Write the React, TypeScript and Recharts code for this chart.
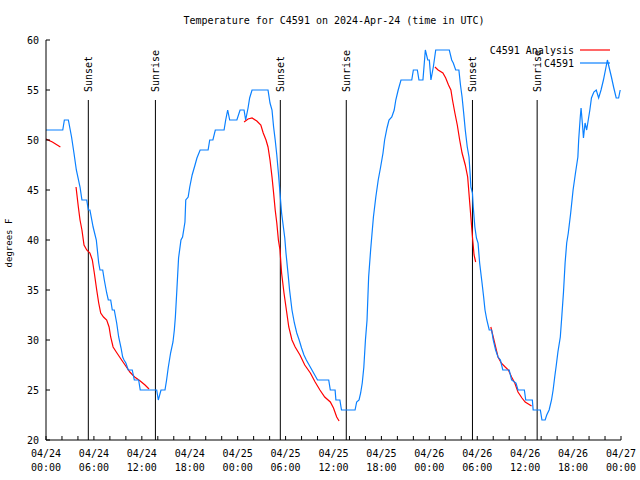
import React from 'react';
import { LineChart, Line, XAxis, YAxis, ReferenceLine, Customized } from 'recharts';

const title = 'Temperature for C4591 on 2024-Apr-24 (time in UTC)';
const yTitle = 'degrees F';
const seriesNames = ['C4591 Analysis', 'C4591'];

// hours since 04/24 00:00 UTC
const obsHours = [
  0, 2.1, 2.3, 2.8, 3.2, 3.5, 3.8, 4.26, 4.5, 5.1, 5.3, 5.5, 5.9, 6.3, 6.6, 6.76, 7.1, 7.3, 7.6, 7.8,
  8.1, 8.3, 8.55, 8.85, 9.1, 9.4, 9.6, 9.77, 10.0, 10.3, 10.8, 11.06, 11.6, 11.8, 13.86, 14.06, 14.4, 14.9, 15.1, 15.3,
  15.6, 15.9, 16.07, 16.2, 16.4, 16.6, 16.9, 17.1, 17.4, 17.5, 17.8, 18.0, 18.3, 18.66, 18.9, 19.3, 20.3, 20.5, 20.9, 21.2,
  22.3, 22.5, 22.75, 23.0, 23.9, 24.3, 24.8, 25.0, 25.3, 25.5, 25.8, 27.8, 28.05, 28.3, 28.5, 28.7, 28.9, 29.1, 29.3, 29.5,
  29.9, 30.05, 30.3, 30.5, 30.8, 31.1, 31.4, 31.7, 32.0, 32.3, 32.6, 33.3, 34.0, 35.4, 35.6, 36.2, 36.3, 36.8, 37.0, 38.7,
  38.9, 39.2, 39.4, 39.6, 39.8, 40.0, 40.2, 40.4, 40.65, 40.86, 41.0, 41.3, 41.6, 41.9, 42.2, 42.4, 42.7, 42.95, 43.3, 43.6,
  43.8, 44.1, 44.45, 45.8, 46.0, 46.5, 46.7, 47.2, 47.5, 47.8, 48.0, 48.2, 48.5, 48.8, 50.5, 50.8, 51.0, 51.3, 51.7, 51.9,
  52.1, 52.3, 52.5, 52.75, 52.97, 53.1, 53.2, 53.4, 53.5, 53.7, 53.9, 54.1, 54.3, 54.6, 54.8, 54.97, 55.2, 55.5, 55.8, 56.0,
  56.3, 56.6, 56.9, 57.2, 58.0, 58.3, 58.85, 59.1, 59.9, 60.07, 60.9, 61.0, 61.9, 62.1, 62.5, 62.7, 63.0, 63.3, 63.5, 63.7,
  63.9, 64.1, 64.4, 64.6, 64.8, 65.0, 65.2, 65.4, 65.7, 66.0, 66.3, 66.6, 66.7, 66.9, 67.0, 67.2, 67.3, 67.5, 67.7, 67.9,
  68.1, 68.3, 68.6, 68.9, 69.2, 69.5, 69.8, 70.1, 70.3, 70.5, 70.8, 71.1, 71.4, 71.7, 71.9,
];
const obsTemps = [
  51, 51, 52, 52, 50.3, 48.7, 47, 45.3, 44, 44, 43, 43, 41.3, 40, 37.7, 37, 37, 36, 34.7, 34,
  34, 33, 33, 31.7, 30.3, 29.2, 28.3, 28, 27.7, 27, 27, 26, 26, 25, 25, 24, 25, 25, 26, 27.2,
  28.7, 29.8, 31, 32.3, 35.2, 38.2, 40, 40.3, 41.8, 44, 44.3, 45.3, 46.5, 47.5, 48.2, 49, 49, 50, 50, 51,
  51, 52, 53, 52, 52, 53, 53, 52, 53.2, 54.2, 55, 55, 53.7, 53, 51.3, 50, 48.5, 46.7, 44.7, 42.7,
  40.2, 38.7, 36.7, 35, 33, 31.7, 30.7, 30, 29.2, 28.5, 28, 27, 26, 26, 25, 25, 24, 24, 23, 23,
  23.8, 24, 24.7, 25.7, 27.3, 30, 32, 36.3, 39, 41, 42.3, 44.3, 46, 47.3, 48.7, 50, 51.2, 52, 52.3, 53,
  54, 55, 56, 56, 57, 57, 56, 56, 59, 58, 58, 56, 57.3, 59, 59, 58, 57.7, 57, 57, 55.5,
  54.3, 52.7, 51, 49.3, 48.3, 46.7, 45.3, 44.7, 43.3, 41.3, 40.2, 39.7, 37.7, 35.7, 34.3, 33, 32, 31, 31, 30,
  29, 28.3, 28, 27, 27, 26, 25.7, 25, 25, 24, 24, 23, 23, 22, 22, 22.5, 23, 24, 25, 26.3,
  27.5, 28.8, 30.3, 32.5, 34.8, 37.7, 39.7, 40.7, 42.7, 45, 46.7, 48.3, 50, 52.3, 53.2, 51.3, 50.2, 51.7, 51, 52,
  53, 54.2, 54.8, 55, 54.2, 55, 56, 57.2, 58, 57.3, 56.3, 55.2, 54.2, 54.2, 55,
];

// analysis series, null marks a gap
const anaHours = [
  0, 0.8, 1.8, 2.5,
  3.76, 4.05, 4.26, 4.5, 4.76, 5.1, 5.5, 5.8, 6.05, 6.35, 6.6, 6.85, 7.2, 7.6, 7.9, 8.1, 8.4, 8.8, 9.3, 9.9, 10.5, 11.1, 11.8, 12.4, 12.9, 13.5,
  24.8, 25.3, 25.8, 26.4, 26.9, 27.2, 27.55, 27.8, 28.05, 28.3, 28.5, 28.7, 28.9, 29.1, 29.3, 29.5, 29.8, 30.1, 30.4, 30.8, 31.2, 31.8, 32.4, 33.1, 33.7, 34.3, 34.9, 35.6, 36.0, 36.4, 36.7, 37.5,
  48.7, 49.1, 49.7, 50.05, 50.4, 50.7, 50.9, 51.2, 51.5, 51.8, 52.1, 52.5, 52.8, 53.0, 53.2, 53.4, 53.6, 53.8, 54.5,
  55.7, 56.0, 56.3, 56.6, 57.0, 57.5, 57.9, 58.3, 58.7, 59.1, 59.6, 60.0, 60.4, 60.8,
];
const anaTemps = [
  50.1, 49.8, 49.3, null,
  45.3, 43.3, 42, 41, 39.5, 39, 38.7, 38, 36.7, 35, 33.7, 32.7, 32.3, 32, 31.3, 30.3, 29.3, 28.8, 28.2, 27.5, 26.8, 26.3, 25.9, 25.5, 25.1, null,
  51.8, 52.1, 52.2, 51.9, 51.5, 50.7, 50, 49.3, 48, 46.3, 44.7, 43, 41.7, 40, 39, 36.7, 34.7, 33, 31.3, 30, 29.3, 28.5, 27.5, 26.7, 25.8, 25, 24.3, 23.8, 23.2, 22.3, 21.9, null,
  57.3, 57, 56.7, 56.2, 55.5, 55, 54, 52.7, 51.5, 50, 48.7, 47.5, 46.3, 44.3, 42.3, 40.3, 38.5, 37.8, null,
  31.3, 30.3, 29.3, 28.3, 27.7, 27.3, 27, 26.3, 25.7, 24.8, 24.2, 23.8, 23.6, 23.4,
];

const sunsetHours = [5.3, 29.34, 53.4];
const sunriseHours = [13.7, 37.6, 61.5];
const sunLineTop = 54;

const xTicks = [0, 2, 4, 6, 8, 10, 12, 14, 16, 18, 20, 22, 24, 26, 28, 30, 32, 34, 36, 38, 40, 42, 44, 46, 48, 50, 52, 54, 56, 58, 60, 62, 64, 66, 68, 70, 72];
const xLabelDates = ['04/24', '04/24', '04/24', '04/24', '04/25', '04/25', '04/25', '04/25', '04/26', '04/26', '04/26', '04/26', '04/27'];
const xLabelTimes = ['00:00', '06:00', '12:00', '18:00', '00:00', '06:00', '12:00', '18:00', '00:00', '06:00', '12:00', '18:00', '00:00'];
const yTicks = [20, 25, 30, 35, 40, 45, 50, 55, 60];

const FONT = '"DejaVu Sans Mono", monospace';
const RED = '#ff0000';
const BLUE = '#0a80ff';

const obsData = obsHours.map((h, i) => ({ h, t: obsTemps[i] }));
const anaData = anaHours.map((h, i) => ({ h, t: anaTemps[i] }));

const BottomTick = (props: any) => {
  const { x, y, payload } = props;
  const v = payload.value;
  const idx = v % 6 === 0 ? v / 6 : -1;
  return (
    <g>
      <line x1={x} y1={y} x2={x} y2={y - 4} stroke="#000" />
      {idx >= 0 && (
        <text x={x} y={y + 17} textAnchor="middle" fontFamily={FONT} fontSize={10} fill="#000">
          {xLabelDates[idx]}
        </text>
      )}
      {idx >= 0 && (
        <text x={x} y={y + 31} textAnchor="middle" fontFamily={FONT} fontSize={10} fill="#000">
          {xLabelTimes[idx]}
        </text>
      )}
    </g>
  );
};

const TopTick = (props: any) => {
  const { x, y } = props;
  return <line x1={x} y1={y} x2={x} y2={y + 4} stroke="#000" />;
};

const LeftTick = (props: any) => {
  const { x, y, payload } = props;
  return (
    <g>
      <line x1={x} y1={y} x2={x + 4} y2={y} stroke="#000" />
      <text x={x - 7} y={y + 4} textAnchor="end" fontFamily={FONT} fontSize={10} fill="#000">
        {payload.value}
      </text>
    </g>
  );
};

const RightTick = (props: any) => {
  const { x, y } = props;
  return <line x1={x} y1={y} x2={x - 4} y2={y} stroke="#000" />;
};

const SunLabel = (props: any) => {
  const { viewBox, text } = props;
  if (!viewBox) return null;
  const lx = viewBox.x + 4;
  const ly = viewBox.y - 8;
  return (
    <text
      x={lx}
      y={ly}
      transform={`rotate(-90 ${lx} ${ly})`}
      textAnchor="start"
      fontFamily={FONT}
      fontSize={10}
      fill="#000"
    >
      {text}
    </text>
  );
};

const Overlay = () => (
  <g>
    <text x={334} y={24} textAnchor="middle" fontFamily={FONT} fontSize={10} fill="#000">
      {title}
    </text>
    <text
      x={12}
      y={243}
      transform="rotate(-90 12 243)"
      textAnchor="middle"
      fontFamily={FONT}
      fontSize={9}
      fill="#000"
    >
      {yTitle}
    </text>
    <text x={574} y={54} textAnchor="end" fontFamily={FONT} fontSize={10} fill="#000">
      {seriesNames[0]}
    </text>
    <line x1={580} y1={50} x2={610} y2={50} stroke={RED} strokeWidth={1.2} />
    <text x={574} y={67} textAnchor="end" fontFamily={FONT} fontSize={10} fill="#000">
      {seriesNames[1]}
    </text>
    <line x1={580} y1={63} x2={610} y2={63} stroke={BLUE} strokeWidth={1.2} />
  </g>
);

export default function App() {
  return (
    <div style={{ position: 'absolute', left: 0, top: 0, width: 640, height: 480, background: '#fff' }}>
      <LineChart width={640} height={480} margin={{ top: 40, right: 19, bottom: 0, left: 0 }}>
        <XAxis
          dataKey="h"
          type="number"
          domain={[0, 72]}
          ticks={xTicks}
          interval={0}
          height={40}
          tickSize={0}
          tickMargin={0}
          tick={<BottomTick />}
          axisLine={{ stroke: '#000' }}
          tickLine={false}
          allowDataOverflow
        />
        <XAxis
          xAxisId="top"
          orientation="top"
          dataKey="h"
          type="number"
          domain={[0, 72]}
          ticks={xTicks}
          interval={0}
          height={0}
          tickSize={0}
          tickMargin={0}
          tick={<TopTick />}
          axisLine={{ stroke: '#000' }}
          tickLine={false}
        />
        <YAxis
          type="number"
          domain={[20, 60]}
          ticks={yTicks}
          interval={0}
          width={46}
          tickSize={0}
          tickMargin={0}
          tick={<LeftTick />}
          axisLine={{ stroke: '#000' }}
          tickLine={false}
          allowDataOverflow
        />
        <YAxis
          yAxisId="right"
          orientation="right"
          type="number"
          domain={[20, 60]}
          ticks={yTicks}
          interval={0}
          width={0}
          tickSize={0}
          tickMargin={0}
          tick={<RightTick />}
          axisLine={{ stroke: '#000' }}
          tickLine={false}
        />
        {sunsetHours.map((h, i) => (
          <ReferenceLine
            key={`ss${i}`}
            segment={[{ x: h, y: sunLineTop }, { x: h, y: 20 }]}
            stroke="#000"
            strokeWidth={1}
            label={<SunLabel text="Sunset" />}
          />
        ))}
        {sunriseHours.map((h, i) => (
          <ReferenceLine
            key={`sr${i}`}
            segment={[{ x: h, y: sunLineTop }, { x: h, y: 20 }]}
            stroke="#000"
            strokeWidth={1}
            label={<SunLabel text="Sunrise" />}
          />
        ))}
        <Line
          data={anaData}
          dataKey="t"
          type="linear"
          stroke={RED}
          strokeWidth={1.2}
          dot={false}
          activeDot={false}
          connectNulls={false}
          isAnimationActive={false}
          name={seriesNames[0]}
        />
        <Line
          data={obsData}
          dataKey="t"
          type="linear"
          stroke={BLUE}
          strokeWidth={1.2}
          dot={false}
          activeDot={false}
          isAnimationActive={false}
          name={seriesNames[1]}
        />
        <Customized component={Overlay} />
      </LineChart>
    </div>
  );
}
